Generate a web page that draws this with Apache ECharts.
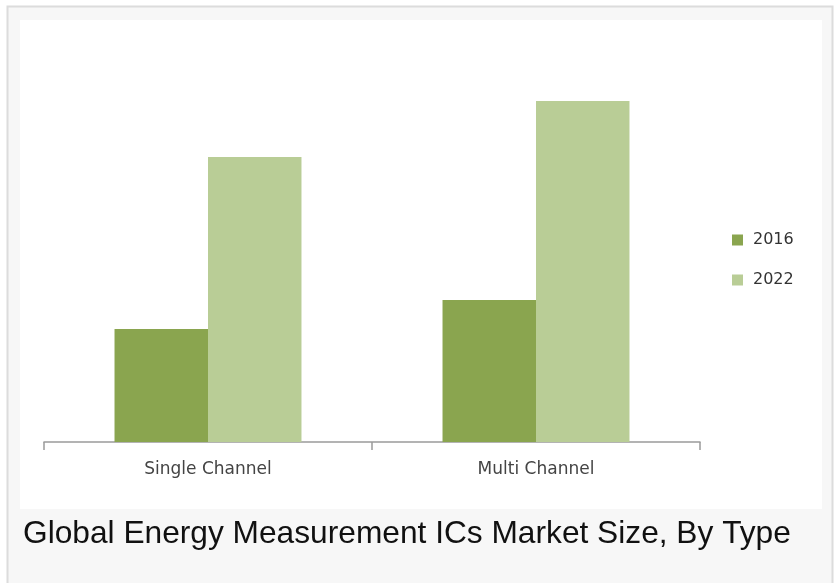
<!DOCTYPE html>
<html>
<head>
<meta charset="utf-8">
<script src="https://cdn.jsdelivr.net/npm/echarts@6/dist/echarts.min.js"></script>
<style>
html,body{margin:0;padding:0;background:#ffffff;}
#chart{width:838px;height:583px;}
</style>
</head>
<body>
<div id="chart"></div>
<script>
var categories = ['Single Channel', 'Multi Channel'];
var seriesNames = ['2016', '2022'];
var values2016 = [1.13, 1.42];
var values2022 = [2.85, 3.41];
var captionText = 'Global Energy Measurement ICs Market Size, By Type';

var chart = echarts.init(document.getElementById('chart'), null, {renderer: 'canvas'});
chart.setOption({
  animation: false,
  backgroundColor: '#ffffff',
  graphic: [
    {type: 'rect', z: -10, shape: {x: 7.5, y: 6.5, width: 825, height: 590},
     style: {fill: '#f7f7f7', stroke: '#dcdcdc', lineWidth: 2}},
    {type: 'rect', z: -9, shape: {x: 20, y: 20, width: 802, height: 489},
     style: {fill: '#ffffff'}}
  ],
  title: {
    text: captionText,
    left: 18, top: 513,
    textStyle: {fontFamily: 'Liberation Sans', fontSize: 31.7, fontWeight: 'normal', color: '#111111'}
  },
  legend: {
    orient: 'vertical',
    left: 727, top: 227,
    itemWidth: 11, itemHeight: 11, itemGap: 24,
    icon: 'rect',
    data: seriesNames,
    textStyle: {fontFamily: 'DejaVu Sans', fontSize: 16, color: '#333333', padding: [0, 0, 0, 5]}
  },
  grid: {left: 44, right: 138, top: 42, bottom: 141, containLabel: false},
  xAxis: {
    type: 'category',
    data: categories,
    axisLine: {lineStyle: {color: '#9a9a9a', width: 1.5}},
    axisTick: {show: true, length: 8, lineStyle: {color: '#9a9a9a', width: 1.5}},
    axisLabel: {margin: 19, fontFamily: 'DejaVu Sans', fontSize: 17, color: '#444444'}
  },
  yAxis: {
    type: 'value', min: 0, max: 4,
    show: false,
    splitLine: {show: false}
  },
  series: [
    {name: seriesNames[0], type: 'bar', data: values2016, barGap: '0%', barCategoryGap: '43%',
     itemStyle: {color: '#8aa54f'}},
    {name: seriesNames[1], type: 'bar', data: values2022, barGap: '0%', barCategoryGap: '43%',
     itemStyle: {color: '#b9cd96'}}
  ]
});
</script>
</body>
</html>
